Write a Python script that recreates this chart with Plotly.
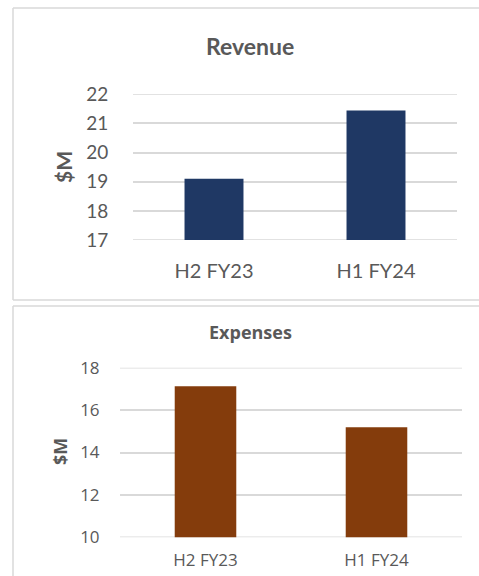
import plotly.graph_objects as go

W, H = 479, 576

categories = ["H2 FY23", "H1 FY24"]
revenue = [19.1, 21.44]
expenses = [17.12, 15.19]

rev_ticks = [17, 18, 19, 20, 21, 22]
exp_ticks = [10, 12, 14, 16, 18]


def px_x(x):
    return x / W


def px_y(y):
    return 1 - y / H


fig = go.Figure()
fig.add_trace(go.Bar(x=categories, y=revenue, marker=dict(color="#1F3864", line=dict(width=0)),
                     width=0.364, xaxis="x", yaxis="y", hoverinfo="skip"))
fig.add_trace(go.Bar(x=categories, y=expenses, marker=dict(color="#843C0C", line=dict(width=0)),
                     width=0.36, xaxis="x2", yaxis="y2", hoverinfo="skip"))

grey = "#595959"
grid = "#D9D9D9"
border = "#D9D9D9"

# gridlines at the range edges (plotly drops grid lines lying on the plot edges)
edge_grid = []
for t in (rev_ticks[0], rev_ticks[-1]):
    edge_grid.append(dict(type="line", xref="x domain", yref="y", x0=0, x1=1, y0=t, y1=t,
                          line=dict(color=grid, width=1.5), layer="below"))
for t in (exp_ticks[0], exp_ticks[-1]):
    edge_grid.append(dict(type="line", xref="x2 domain", yref="y2", x0=0, x1=1, y0=t, y1=t,
                          line=dict(color=grid, width=1.5), layer="below"))

borders = [
    # top panel border
    dict(type="line", xref="paper", yref="paper", x0=px_x(13), x1=1, y0=px_y(8), y1=px_y(8),
         line=dict(color=border, width=1.5), layer="below"),
    dict(type="line", xref="paper", yref="paper", x0=px_x(13), x1=px_x(13), y0=px_y(300), y1=px_y(8),
         line=dict(color=border, width=1.5), layer="below"),
    dict(type="line", xref="paper", yref="paper", x0=px_x(13), x1=1, y0=px_y(300), y1=px_y(300),
         line=dict(color=border, width=1.5), layer="below"),
    # bottom panel border
    dict(type="line", xref="paper", yref="paper", x0=px_x(13), x1=1, y0=px_y(306), y1=px_y(306),
         line=dict(color=border, width=1.5), layer="below"),
    dict(type="line", xref="paper", yref="paper", x0=px_x(13), x1=px_x(13), y0=0, y1=px_y(306),
         line=dict(color=border, width=1.5), layer="below"),
]

fig.update_layout(
    width=W, height=H,
    margin=dict(l=0, r=0, t=0, b=0, pad=0),
    paper_bgcolor="white", plot_bgcolor="rgba(0,0,0,0)",
    showlegend=False,
    xaxis=dict(domain=[px_x(133), px_x(457)], anchor="y", showgrid=False, showline=False, automargin=False,
               ticks="outside", ticklen=13, tickcolor="rgba(0,0,0,0)",
               tickfont=dict(family="Lato", size=20, color=grey), fixedrange=True),
    yaxis=dict(domain=[px_y(240), px_y(94.3)], anchor="x", range=[17, 22], tickvals=rev_ticks, automargin=False,
               showgrid=True, gridcolor=grid, gridwidth=1.5, zeroline=False, showline=False,
               ticks="outside", ticklen=20, tickcolor="rgba(0,0,0,0)",
               tickfont=dict(family="Lato", size=19, color=grey), fixedrange=True),
    xaxis2=dict(domain=[px_x(120), px_x(462)], anchor="y2", showgrid=False, showline=False, automargin=False,
                ticks="outside", ticklen=7, tickcolor="rgba(0,0,0,0)",
                tickfont=dict(family="Open Sans", size=17, color=grey), fixedrange=True),
    yaxis2=dict(domain=[px_y(537.3), px_y(367.7)], anchor="x2", range=[10, 18], tickvals=exp_ticks, automargin=False,
                showgrid=True, gridcolor=grid, gridwidth=1.5, zeroline=False, showline=False,
                ticks="outside", ticklen=16, tickcolor="rgba(0,0,0,0)",
                tickfont=dict(family="Open Sans", size=17, color=grey), fixedrange=True),
    shapes=borders + edge_grid,
    annotations=[
        dict(text="<b>Revenue</b>", xref="paper", yref="paper", x=px_x(250), y=px_y(46),
             showarrow=False, font=dict(family="Lato", size=23, color=grey), xanchor="center", yanchor="middle"),
        dict(text="<b>$M</b>", xref="paper", yref="paper", x=px_x(63), y=px_y(167), textangle=-90,
             showarrow=False, font=dict(family="Lato", size=21, color=grey), xanchor="center", yanchor="middle"),
        dict(text="<b>Expenses</b>", xref="paper", yref="paper", x=px_x(250), y=px_y(332),
             showarrow=False, font=dict(family="Open Sans", size=18, color=grey), xanchor="center", yanchor="middle"),
        dict(text="<b>$M</b>", xref="paper", yref="paper", x=px_x(60), y=px_y(452), textangle=-90,
             showarrow=False, font=dict(family="Open Sans", size=18, color=grey), xanchor="center", yanchor="middle"),
    ],
)

fig.write_html("out.html", config={"displayModeBar": False})
